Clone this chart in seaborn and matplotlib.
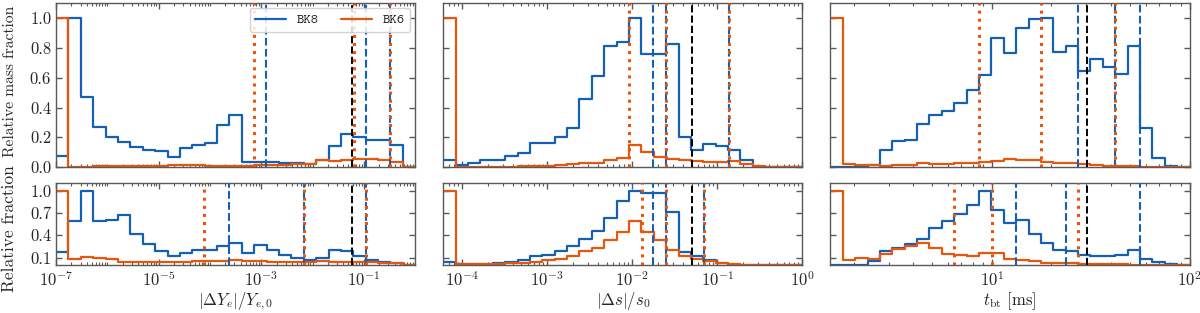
import numpy as np
import matplotlib
matplotlib.use("Agg")
import matplotlib.pyplot as plt
import matplotlib.ticker as mticker
from matplotlib.lines import Line2D
import seaborn as sns

# ---------------- data ----------------
models = ["BK8", "BK6"]

# log10 ranges of the 29 logarithmic bins of each quantity
ye_log_range = (-7.0, 0.0)
s_log_range = (-4.22, 0.0)
t_log_range = (0.183, 2.0)

# |dYe|/Ye0 : mass-weighted (top) and number (bottom)
ye_mass_bk8 = [0.076, 1.0, 0.47, 0.27, 0.20, 0.17, 0.135, 0.115, 0.105, 0.07, 0.13, 0.15, 0.165, 0.285,
               0.35, 0.035, 0.035, 0.033, 0.03, 0.027, 0.02, 0.05, 0.145, 0.22, 0.205, 0.18, 0.185, 0.15, 0.0]
ye_mass_bk6 = [1.0, 0.004, 0.004, 0.005, 0.005, 0.005, 0.006, 0.008, 0.01, 0.012, 0.015, 0.012, 0.01, 0.01,
               0.01, 0.01, 0.012, 0.012, 0.015, 0.02, 0.02, 0.045, 0.042, 0.048, 0.057, 0.052, 0.05, 0.035, 0.0]
ye_num_bk8 = [0.176, 0.585, 1.0, 0.585, 0.6, 0.666, 0.41, 0.28, 0.185, 0.12, 0.155, 0.2, 0.207, 0.25,
              0.296, 0.167, 0.265, 0.2, 0.14, 0.1, 0.065, 0.1, 0.2, 0.19, 0.12, 0.065, 0.046, 0.03, 0.0]
ye_num_bk6 = [1.0, 0.074, 0.11, 0.096, 0.074, 0.04, 0.035, 0.035, 0.035, 0.035, 0.04, 0.055, 0.05, 0.05,
              0.065, 0.06, 0.055, 0.045, 0.04, 0.04, 0.04, 0.06, 0.045, 0.045, 0.04, 0.035, 0.03, 0.025, 0.0]

# |ds|/s0
s_mass_bk8 = [0.05, 0.015, 0.027, 0.045, 0.045, 0.076, 0.094, 0.16, 0.165, 0.2, 0.264, 0.46, 0.613, 0.81,
              0.843, 1.0, 0.76, 0.758, 0.825, 0.2, 0.112, 0.154, 0.145, 0.112, 0.045, 0.004, 0.002, 0.001, 0.0]
s_mass_bk6 = [1.0, 0.002, 0.002, 0.002, 0.002, 0.003, 0.005, 0.007, 0.01, 0.013, 0.018, 0.025, 0.03, 0.045,
              0.06, 0.15, 0.1, 0.07, 0.055, 0.045, 0.04, 0.035, 0.035, 0.04, 0.02, 0.008, 0.002, 0.001, 0.0]
s_num_bk8 = [0.042, 0.01, 0.015, 0.015, 0.024, 0.046, 0.073, 0.122, 0.14, 0.185, 0.256, 0.345, 0.452, 0.635,
             0.857, 1.0, 0.964, 0.964, 0.71, 0.176, 0.118, 0.073, 0.02, 0.005, 0.003, 0.002, 0.001, 0.001, 0.0]
s_num_bk6 = [1.0, 0.013, 0.015, 0.015, 0.015, 0.024, 0.03, 0.046, 0.064, 0.082, 0.118, 0.185, 0.234, 0.33,
             0.443, 0.59, 0.443, 0.33, 0.198, 0.118, 0.087, 0.055, 0.028, 0.008, 0.004, 0.002, 0.001, 0.001, 0.0]

# t_bt [ms]
t_mass_bk8 = [0.0, 0.0, 0.002, 0.015, 0.112, 0.177, 0.18, 0.29, 0.347, 0.376, 0.43, 0.52, 0.62, 0.87,
              0.765, 0.937, 0.993, 1.0, 0.774, 0.81, 0.647, 0.727, 0.671, 0.626, 0.814, 0.26, 0.063, 0.005, 0.0]
t_mass_bk6 = [1.0, 0.018, 0.016, 0.012, 0.01, 0.012, 0.015, 0.025, 0.02, 0.02, 0.027, 0.03, 0.035, 0.042,
              0.056, 0.05, 0.045, 0.036, 0.03, 0.028, 0.022, 0.015, 0.01, 0.008, 0.006, 0.004, 0.002, 0.001, 0.0]
t_num_bk8 = [0.0, 0.0, 0.0, 0.055, 0.185, 0.23, 0.287, 0.354, 0.496, 0.585, 0.688, 0.8, 1.0, 0.742,
             0.563, 0.6, 0.42, 0.296, 0.207, 0.185, 0.13, 0.118, 0.118, 0.13, 0.207, 0.087, 0.042, 0.015, 0.0]
t_num_bk6 = [1.0, 0.064, 0.09, 0.082, 0.144, 0.216, 0.256, 0.3, 0.234, 0.153, 0.14, 0.118, 0.167, 0.167,
             0.087, 0.064, 0.05, 0.033, 0.025, 0.02, 0.015, 0.012, 0.01, 0.008, 0.006, 0.004, 0.002, 0.001, 0.0]

# marker lines (percentiles of each model) and reference value (black)
ye_mass_lines_bk8 = [1.23e-3, 0.111, 0.32]
ye_mass_lines_bk6 = [7.3e-4, 0.064, 0.32]
ye_num_lines_bk8 = [2.4e-4, 6.7e-3, 0.111]
ye_num_lines_bk6 = [7.6e-5, 6.7e-3, 0.111]
ye_ref = 0.058

s_mass_lines_bk8 = [0.0178, 0.0249, 0.136]
s_mass_lines_bk6 = [0.0092, 0.0249, 0.136]
s_num_lines_bk8 = [0.0178, 0.0249, 0.069]
s_num_lines_bk6 = [0.013, 0.0249, 0.069]
s_ref = 0.0503

t_mass_lines_bk8 = [27.4, 42.0, 56.1]
t_mass_lines_bk6 = [8.63, 17.7, 42.0]
t_num_lines_bk8 = [13.3, 23.7, 56.1]
t_num_lines_bk6 = [6.45, 10.0, 27.4]
t_ref = 30.2

xlabels = [r"$|\Delta Y_e|/Y_{e,0}$", r"$|\Delta s|/s_0$", r"$t_{\rm bt}$ [ms]"]
ylabels = ["Relative mass fraction", "Relative fraction"]

# ---------------- style ----------------
BLUE = "#1660b4"
ORANGE = "#e8560e"
SPINE = "0.35"

sns.set_style("ticks", {"axes.edgecolor": SPINE, "xtick.color": SPINE, "ytick.color": SPINE})
plt.rcParams.update({
    "font.family": "cmr10",
    "mathtext.fontset": "cm",
    "axes.formatter.use_mathtext": True,
    "font.size": 12,
    "axes.labelcolor": "0.15",
    "xtick.labelcolor": "0.15",
    "ytick.labelcolor": "0.15",
    "axes.linewidth": 1.0,
})

fig = plt.figure(figsize=(12, 3.13), dpi=100)
gs = fig.add_gridspec(2, 3, height_ratios=[2, 1], left=0.0467, right=0.9913,
                      top=0.9895, bottom=0.1534, wspace=0.078, hspace=0.13)

panels = [
    (ye_log_range, [(ye_mass_bk8, ye_mass_bk6, ye_mass_lines_bk8, ye_mass_lines_bk6),
                    (ye_num_bk8, ye_num_bk6, ye_num_lines_bk8, ye_num_lines_bk6)], ye_ref,
     [1e-7, 1e-5, 1e-3, 1e-1]),
    (s_log_range, [(s_mass_bk8, s_mass_bk6, s_mass_lines_bk8, s_mass_lines_bk6),
                   (s_num_bk8, s_num_bk6, s_num_lines_bk8, s_num_lines_bk6)], s_ref,
     [1e-4, 1e-3, 1e-2, 1e-1, 1e0]),
    (t_log_range, [(t_mass_bk8, t_mass_bk6, t_mass_lines_bk8, t_mass_lines_bk6),
                   (t_num_bk8, t_num_bk6, t_num_lines_bk8, t_num_lines_bk6)], t_ref,
     [1e1, 1e2]),
]

ylabel_sizes = [11.2, 12.5]
ylabel_ypos = [0.526, 0.44]


def draw_hist(ax, log_range, values, color):
    edges_log = np.linspace(log_range[0], log_range[1], len(values) + 1)
    centers = 10 ** (0.5 * (edges_log[:-1] + edges_log[1:]))
    sns.histplot(x=centers, weights=np.asarray(values, float), bins=[float(e) for e in edges_log],
                 log_scale=True, element="step", fill=False, color=color, linewidth=1.6, ax=ax)


for col, (log_range, rows, ref, majors) in enumerate(panels):
    for row, (v8, v6, l8, l6) in enumerate(rows):
        ax = fig.add_subplot(gs[row, col])
        draw_hist(ax, log_range, v8, BLUE)
        draw_hist(ax, log_range, v6, ORANGE)
        for xv in l8:
            ax.axvline(xv, color=BLUE, ls="--", lw=1.5, zorder=3)
        for xv in l6:
            ax.axvline(xv, color=ORANGE, ls=":", lw=2.2, zorder=4)
        ax.axvline(ref, color="k", ls="--", lw=1.4, zorder=3)

        ax.set_xscale("log")
        ax.set_xlim(10 ** log_range[0], 10 ** log_range[1])
        ax.set_ylim(0, 1.1)
        ax.xaxis.set_major_locator(mticker.FixedLocator(majors))
        ax.xaxis.set_major_formatter(mticker.LogFormatterSciNotation())
        ax.xaxis.set_minor_locator(mticker.LogLocator(base=10, subs=np.arange(1, 10), numticks=50))
        ax.xaxis.set_minor_formatter(mticker.NullFormatter())
        if row == 0:
            ax.yaxis.set_major_locator(mticker.FixedLocator([0.0, 0.2, 0.4, 0.6, 0.8, 1.0]))
        else:
            ax.yaxis.set_major_locator(mticker.FixedLocator([0.1, 0.4, 0.7, 1.0]))
        ax.yaxis.set_major_formatter(mticker.FormatStrFormatter("%.1f"))
        ax.tick_params(which="both", direction="in", top=True, right=True, labelsize=12)
        ax.tick_params(which="major", length=4, width=1.0)
        ax.tick_params(which="minor", length=2, width=0.8)
        for sp in ax.spines.values():
            sp.set_visible(True)

        if row == 0:
            ax.tick_params(labelbottom=False)
            ax.set_xlabel("")
        else:
            ax.set_xlabel(xlabels[col], fontsize=12, labelpad=1)
        if col == 0:
            ax.set_ylabel(ylabels[row], fontsize=ylabel_sizes[row])
            ax.yaxis.set_label_coords(-0.11, ylabel_ypos[row])
        else:
            ax.tick_params(labelleft=False)
            ax.set_ylabel("")

        if row == 0 and col == 0:
            handles = [Line2D([], [], color=BLUE, lw=1.6), Line2D([], [], color=ORANGE, lw=1.6)]
            ax.legend(handles, models, loc="upper right", ncol=2, prop={"family": "cmtt10", "size": 10},
                      frameon=True, framealpha=0.85, edgecolor="0.8", handlelength=2.2,
                      columnspacing=1.6, borderaxespad=0.35)

fig.savefig("out.png", dpi=100)
